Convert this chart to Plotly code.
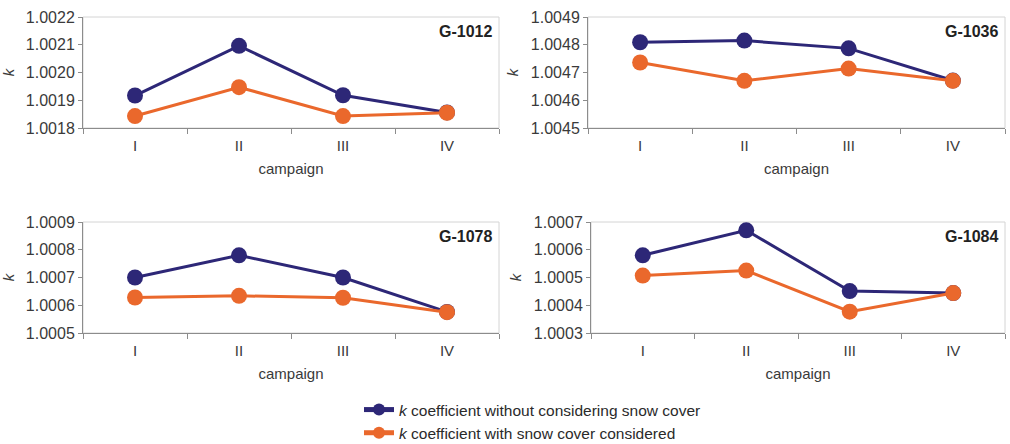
import plotly.graph_objects as go
from plotly.subplots import make_subplots

campaigns = ["I", "II", "III", "IV"]

# k values, one pair of lists per station
g1012_no_snow = [1.001917, 1.002096, 1.001918, 1.001856]
g1012_snow = [1.001843, 1.001947, 1.001843, 1.001855]

g1036_no_snow = [1.004809, 1.004815, 1.004787, 1.004671]
g1036_snow = [1.004736, 1.004670, 1.004714, 1.004670]

g1078_no_snow = [1.000700, 1.000780, 1.000700, 1.000576]
g1078_snow = [1.000628, 1.000634, 1.000627, 1.000575]

g1084_no_snow = [1.000580, 1.000670, 1.000451, 1.000444]
g1084_snow = [1.000507, 1.000525, 1.000377, 1.000444]

stations = ["G-1012", "G-1036", "G-1078", "G-1084"]
y_ranges = [(1.0018, 1.0022), (1.0045, 1.0049), (1.0005, 1.0009), (1.0003, 1.0007)]

name_no_snow = "<i>k</i> coefficient without considering snow cover"
name_snow = "<i>k</i> coefficient with snow cover considered"

BLUE = "#2d2777"
ORANGE = "#ea682c"
FONT = "Liberation Sans, Arial, sans-serif"
GREY_TXT = "#3a3a3a"

fig = make_subplots(rows=2, cols=2)

all_data = [
    (g1012_no_snow, g1012_snow),
    (g1036_no_snow, g1036_snow),
    (g1078_no_snow, g1078_snow),
    (g1084_no_snow, g1084_snow),
]

for i, (no_snow, snow) in enumerate(all_data):
    r = i // 2 + 1
    c = i % 2 + 1
    fig.add_trace(go.Scatter(x=campaigns, y=no_snow, mode="lines+markers",
                             name=name_no_snow, showlegend=(i == 0),
                             line=dict(color=BLUE, width=3),
                             marker=dict(color=BLUE, size=16)), row=r, col=c)
    fig.add_trace(go.Scatter(x=campaigns, y=snow, mode="lines+markers",
                             name=name_snow, showlegend=(i == 0),
                             line=dict(color=ORANGE, width=3),
                             marker=dict(color=ORANGE, size=16)), row=r, col=c)

# panel positions in page pixels (body margin is removed below)
W, H = 1010, 444
x_doms = [(83, 499), (588, 1005), (83, 499), (591, 1005)]
y_doms = [(17, 128), (17, 128), (222, 333), (222, 333)]

for i in range(4):
    xa = "xaxis" if i == 0 else "xaxis%d" % (i + 1)
    ya = "yaxis" if i == 0 else "yaxis%d" % (i + 1)
    x0, x1 = x_doms[i]
    y0, y1 = y_doms[i]
    fig.layout[xa].update(
        domain=[x0 / W, x1 / W], type="category", range=[-0.5, 3.5],
        automargin=False,
        showgrid=False, zeroline=False, showline=True, linecolor="#8c8c8c",
        linewidth=1, ticks="outside", tickson="boundaries", ticklen=5,
        tickcolor="#8c8c8c", ticklabelstandoff=4,
        tickfont=dict(size=15, color=GREY_TXT),
        title=dict(text="campaign", font=dict(size=15, color=GREY_TXT), standoff=10))
    lo, hi = y_ranges[i]
    fig.layout[ya].update(
        domain=[1 - y1 / H, 1 - y0 / H], range=[lo, hi], dtick=0.0001,
        automargin=False,
        tickformat=".4f", showgrid=False, zeroline=False, showline=True,
        linecolor="#8c8c8c", linewidth=1, ticks="outside", ticklen=4,
        tickcolor="#8c8c8c", tickfont=dict(size=16, color=GREY_TXT),
        title=dict(text="<i>k</i>", font=dict(size=15, color=GREY_TXT), standoff=8))
    ref = "" if i == 0 else str(i + 1)
    # light frame around plot area
    fig.add_shape(type="rect", xref="x%s domain" % ref, yref="y%s domain" % ref,
                  x0=0, x1=1, y0=0, y1=1, line=dict(color="#d4d4d4", width=1),
                  layer="below")
    fig.add_annotation(xref="x%s domain" % ref, yref="y%s domain" % ref,
                       x=0.988, y=0.87, xanchor="right", yanchor="middle",
                       text="<b>%s</b>" % stations[i], showarrow=False,
                       font=dict(size=16, color="#222222"))

fig.update_layout(
    width=W, height=H,
    margin=dict(l=0, r=0, t=0, b=0, autoexpand=False),
    paper_bgcolor="white", plot_bgcolor="white",
    font=dict(family=FONT),
    legend=dict(x=359 / W, y=1 - 393 / H, xanchor="left", yanchor="top",
                itemsizing="constant", tracegroupgap=0,
                font=dict(size=15.5, color="#2a2a2a"), bgcolor="rgba(0,0,0,0)"),
)

# drop the default 8px body margin so the figure fills the window exactly
fig.write_html("out.html", config={"displayModeBar": False}, post_script=(
    "document.body.style.margin='0';"
    "document.documentElement.style.overflow='hidden';"
    "document.body.style.overflow='hidden';"))
